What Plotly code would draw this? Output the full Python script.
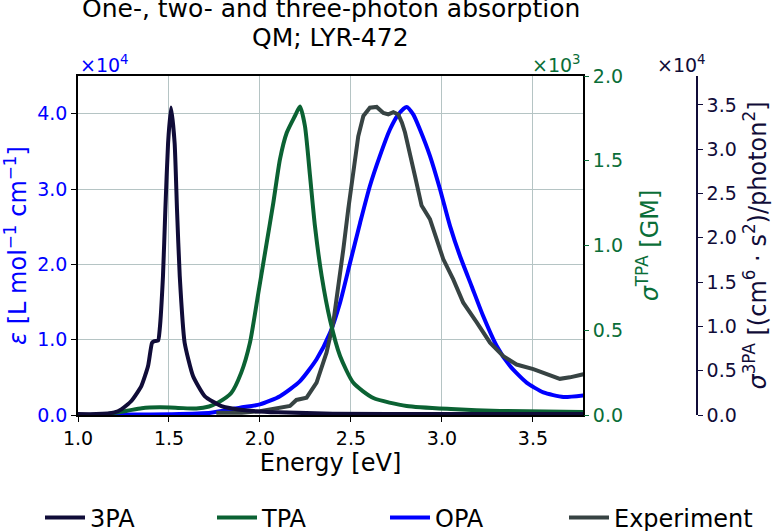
import plotly.graph_objects as go

# ---------------- data ----------------
# 3PA (units of 1e4)
e_3pa = [1.00, 1.10, 1.20, 1.238, 1.293, 1.348, 1.385, 1.407, 1.42, 1.44, 1.449, 1.467, 1.48,
         1.495, 1.511, 1.531, 1.544, 1.559, 1.586, 1.632, 1.696, 1.788, 1.93, 2.10, 2.40, 3.00, 3.78]
v_3pa = [0.01, 0.01, 0.03, 0.064, 0.158, 0.327, 0.553, 0.816, 0.835, 0.84, 0.967, 1.57, 2.32,
         3.07, 3.47, 3.07, 2.32, 1.57, 0.816, 0.44, 0.214, 0.10, 0.05, 0.03, 0.015, 0.01, 0.01]

# TPA (units of 1e3)
e_tpa = [1.00, 1.15, 1.27, 1.35, 1.45, 1.55, 1.65, 1.72, 1.769, 1.842, 1.897, 1.945, 1.991, 2.037,
         2.073, 2.11, 2.147, 2.192, 2.22, 2.247, 2.275, 2.302, 2.339, 2.385, 2.44, 2.513, 2.623,
         2.806, 3.05, 3.32, 3.78]
v_tpa = [0.0, 0.005, 0.025, 0.04, 0.045, 0.042, 0.038, 0.05, 0.073, 0.13, 0.25, 0.427, 0.72, 1.017,
         1.25, 1.51, 1.665, 1.764, 1.82, 1.705, 1.41, 1.115, 0.82, 0.56, 0.348, 0.19, 0.10,
         0.053, 0.035, 0.024, 0.018]

# OPA (units of 1e4)
e_opa = [1.00, 1.30, 1.50, 1.73, 1.89, 2.00, 2.11, 2.22, 2.311, 2.385, 2.44, 2.495, 2.55, 2.604,
         2.659, 2.714, 2.76, 2.806, 2.842, 2.879, 2.934, 2.989, 3.044, 3.099, 3.163, 3.227, 3.30,
         3.374, 3.465, 3.557, 3.667, 3.777]
v_opa = [0.0, 0.005, 0.01, 0.03, 0.097, 0.14, 0.25, 0.45, 0.74, 1.09, 1.49, 2.02, 2.55, 3.04,
         3.44, 3.79, 3.99, 4.09, 3.99, 3.79, 3.44, 3.0, 2.51, 2.11, 1.71, 1.31, 0.92,
         0.65, 0.43, 0.30, 0.24, 0.26]

# Experiment (units of 1e4, left axis)
e_exp = [1.76, 1.90, 2.00, 2.073, 2.10, 2.165, 2.20, 2.256, 2.311, 2.366, 2.403, 2.43, 2.458, 2.485,
         2.513, 2.54, 2.568, 2.604, 2.641, 2.678, 2.705, 2.733, 2.76, 2.78, 2.797, 2.824, 2.852,
         2.888, 2.934, 2.971, 3.007, 3.062, 3.117, 3.191, 3.264, 3.337, 3.41, 3.502, 3.575,
         3.648, 3.703, 3.777]
v_exp = [0.03, 0.03, 0.05, 0.08, 0.09, 0.12, 0.20, 0.23, 0.43, 0.83, 1.23, 1.67, 2.20, 2.73,
         3.26, 3.70, 3.97, 4.08, 4.09, 4.01, 3.99, 4.02, 3.99, 3.88, 3.75, 3.44, 3.17,
         2.78, 2.60, 2.33, 2.07, 1.80, 1.49, 1.23, 0.96, 0.78, 0.67, 0.61, 0.54,
         0.48, 0.50, 0.54]

x_ticks = [1.0, 1.5, 2.0, 2.5, 3.0, 3.5]
y1_ticks = [0, 1, 2, 3, 4]
y2_ticks = [0, 0.5, 1.0, 1.5, 2.0]
y3_ticks = [0, 0.5, 1.0, 1.5, 2.0, 2.5, 3.0, 3.5]

title_lines = ["One-, two- and three-photon absorption", "QM; LYR-472"]

# ---------------- styling ----------------
FONT = "DejaVu Sans"
C_3PA = "#100c38"
C_TPA = "#0b6233"
C_TPA_TXT = "#0a6e38"
C_OPA = "#0000ff"
C_EXP = "#374343"
GRID = "#b5c4c4"

W, H = 773, 531
ML, MR, MT, MB = 78, 0, 76, 116
PW = W - ML - MR
PH = H - MT - MB
X_RIGHT = 583
AX3_X = 697
xdom_end = (X_RIGHT - ML) / PW

fig = go.Figure()
fig.add_trace(go.Scatter(x=e_opa, y=[v * 1e4 for v in v_opa], name="OPA", mode="lines",
                         line=dict(color=C_OPA, width=4, shape="spline", smoothing=0.6),
                         yaxis="y", legend="legend3"))
fig.add_trace(go.Scatter(x=e_exp, y=[v * 1e4 for v in v_exp], name="Experiment", mode="lines",
                         line=dict(color=C_EXP, width=4),
                         yaxis="y", legend="legend4"))
fig.add_trace(go.Scatter(x=e_tpa, y=[v * 1e3 for v in v_tpa], name="TPA", mode="lines",
                         line=dict(color=C_TPA, width=4, shape="spline", smoothing=0.6),
                         yaxis="y2", legend="legend2"))
fig.add_trace(go.Scatter(x=e_3pa, y=[v * 1e4 for v in v_3pa], name="3PA", mode="lines",
                         line=dict(color=C_3PA, width=4, shape="spline", smoothing=0.5),
                         yaxis="y3", legend="legend"))

tickfont = 19
titlefont = 24


def px2paper(px, py):
    return (px - ML) / PW, (H - MB - py) / PH


def legend_at(px):
    lx, ly = px2paper(px, 518)
    return dict(orientation="h", xref="paper", yref="paper",
                x=lx, xanchor="left", y=ly, yanchor="middle",
                font=dict(size=24, family=FONT),
                itemwidth=40, bgcolor="rgba(0,0,0,0)")


fig.update_layout(
    width=W, height=H,
    margin=dict(l=ML, r=MR, t=MT, b=MB, autoexpand=False),
    paper_bgcolor="white", plot_bgcolor="white",
    font=dict(family=FONT, color="black"),
    xaxis=dict(domain=[0, xdom_end], range=[1.0, 3.775], automargin=False,
               tickvals=x_ticks, ticktext=[f"{v:.1f}" for v in x_ticks],
               tickfont=dict(size=tickfont, color="black"),
               ticks="outside", ticklen=5, tickcolor="black",
               showline=True, linecolor="black", linewidth=1.5, mirror=True,
               showgrid=True, gridcolor=GRID, gridwidth=1.2, zeroline=False,
               title=dict(text="Energy [eV]", font=dict(size=titlefont), standoff=6)),
    yaxis=dict(range=[0, 45000], automargin=False,
               tickvals=[v * 1e4 for v in y1_ticks], ticktext=[f"{v:.1f}" for v in y1_ticks],
               tickfont=dict(size=tickfont, color=C_OPA),
               ticks="outside", ticklen=5, tickcolor="black",
               showline=True, linecolor="black", linewidth=1.5, mirror=True,
               showgrid=True, gridcolor=GRID, gridwidth=1.2, zeroline=False,
               title=dict(text="<i>ε</i> [L mol<sup>−1</sup> cm<sup>−1</sup>]",
                          font=dict(size=titlefont, color=C_OPA), standoff=18)),
    yaxis2=dict(range=[0, 2000], overlaying="y", side="right", anchor="x", automargin=False,
                tickvals=[v * 1e3 for v in y2_ticks], ticktext=[f"{v:.1f}" for v in y2_ticks],
                tickfont=dict(size=tickfont, color=C_TPA_TXT),
                ticks="outside", ticklen=5, tickcolor=C_TPA_TXT,
                showline=False, showgrid=False, zeroline=False,
                title=dict(text="<i>σ</i><sup>TPA</sup> [GM]",
                           font=dict(size=titlefont, color=C_TPA_TXT), standoff=19)),
    yaxis3=dict(range=[0, 38270], overlaying="y", side="right", anchor="free", automargin=False,
                position=(AX3_X - ML) / PW,
                tickvals=[v * 1e4 for v in y3_ticks], ticktext=[f"{v:.1f}" for v in y3_ticks],
                tickfont=dict(size=tickfont, color=C_3PA),
                ticks="outside", ticklen=5, tickcolor=C_3PA,
                showline=True, linecolor=C_3PA, linewidth=1.5,
                showgrid=False, zeroline=False,
                title=dict(text="<i>σ</i><sup>3PA</sup> [(cm<sup>6</sup> · s<sup>2</sup>)/photon<sup>2</sup>]",
                           font=dict(size=titlefont, color=C_3PA), standoff=12)),
    legend=legend_at(40),
    legend2=legend_at(212),
    legend3=legend_at(385),
    legend4=legend_at(564),
    showlegend=True,
)

# Title as two annotations
for line, py in zip(title_lines, [8, 38]):
    tx, ty = px2paper((ML + X_RIGHT) / 2, py)
    fig.add_annotation(text=line, x=tx, y=ty, xref="paper", yref="paper",
                       xanchor="center", yanchor="middle", showarrow=False,
                       font=dict(size=25, family=FONT, color="black"))

for txt, col, px, anchor in [("×10<sup>4</sup>", C_OPA, ML, "left"),
                             ("×10<sup>3</sup>", C_TPA_TXT, X_RIGHT, "right"),
                             ("×10<sup>4</sup>", C_3PA, 708, "right")]:
    ax_, ay_ = px2paper(px, 64)
    fig.add_annotation(text=txt, x=ax_, y=ay_, xref="paper", yref="paper",
                       xanchor=anchor, yanchor="middle", showarrow=False,
                       font=dict(size=19, color=col, family=FONT))

fig.write_html("out.html")
